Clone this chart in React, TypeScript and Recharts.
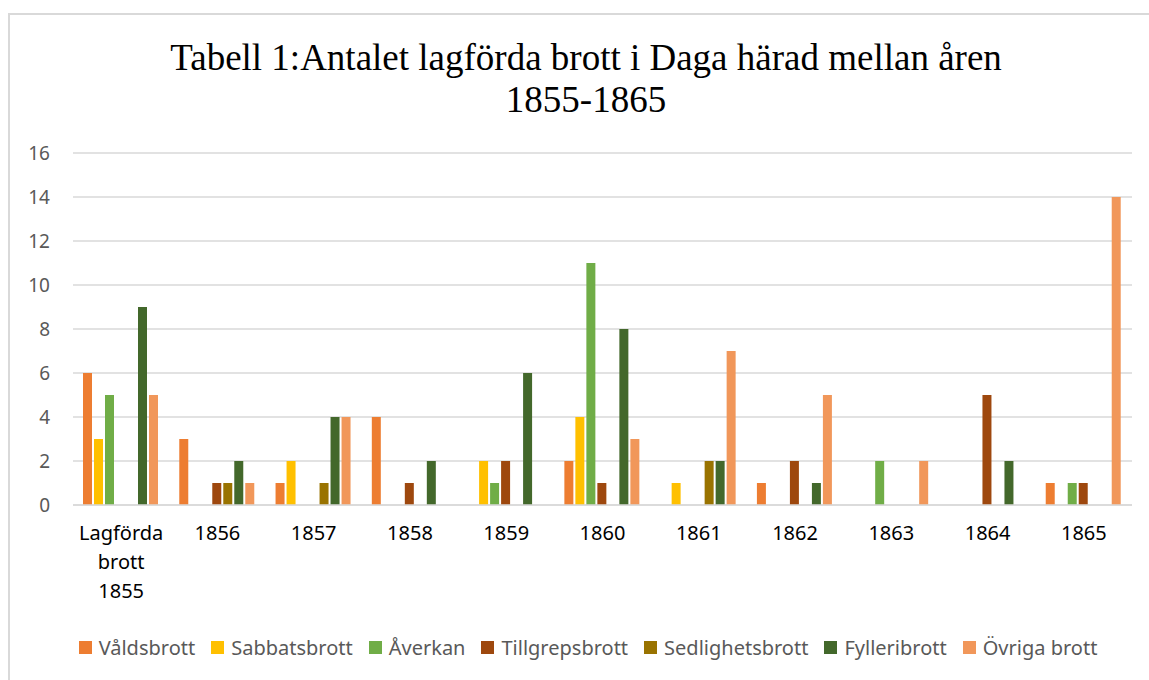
import React from 'react';
import { BarChart, Bar, XAxis, YAxis, CartesianGrid, Legend } from 'recharts';

const categories = ['Lagförda brott 1855', '1856', '1857', '1858', '1859', '1860', '1861', '1862', '1863', '1864', '1865'];
const valdsbrott = [6, 3, 1, 4, 0, 2, 0, 1, 0, 0, 1];
const sabbatsbrott = [3, 0, 2, 0, 2, 4, 1, 0, 0, 0, 0];
const averkan = [5, 0, 0, 0, 1, 11, 0, 0, 2, 0, 1];
const tillgrepsbrott = [0, 1, 0, 1, 2, 1, 0, 2, 0, 5, 1];
const sedlighetsbrott = [0, 1, 1, 0, 0, 0, 2, 0, 0, 0, 0];
const fylleribrott = [9, 2, 4, 2, 6, 8, 2, 1, 0, 2, 0];
const ovrigaBrott = [5, 1, 4, 0, 0, 3, 7, 5, 2, 0, 14];
const yTicks = [0, 2, 4, 6, 8, 10, 12, 14, 16];

const series = [
  { key: 'Våldsbrott', values: valdsbrott, color: '#ED7D31' },
  { key: 'Sabbatsbrott', values: sabbatsbrott, color: '#FFC000' },
  { key: 'Åverkan', values: averkan, color: '#70AD47' },
  { key: 'Tillgrepsbrott', values: tillgrepsbrott, color: '#9E480E' },
  { key: 'Sedlighetsbrott', values: sedlighetsbrott, color: '#997300' },
  { key: 'Fylleribrott', values: fylleribrott, color: '#43682B' },
  { key: 'Övriga brott', values: ovrigaBrott, color: '#F1975A' },
];

const data = categories.map((c, i) => {
  const row: Record<string, string | number> = { name: c };
  series.forEach((s) => { row[s.key] = s.values[i]; });
  return row;
});

const FONT = '"Noto Sans", sans-serif';

const XTick = (props: any) => {
  const { x, y, payload } = props;
  const words = String(payload.value).split(' ');
  return (
    <text x={x} y={y} textAnchor="middle" fill="#000000" fontSize={20} fontFamily={FONT}>
      {words.map((w, i) => (
        <tspan key={i} x={x} dy={i === 0 ? 27 : 29}>{w}</tspan>
      ))}
    </text>
  );
};

const LegendContent = () => (
  <div style={{ display: 'flex', justifyContent: 'center', alignItems: 'center', height: 26, fontFamily: FONT, fontSize: 20, color: '#595959', paddingLeft: 60 }}>
    {series.map((s, i) => (
      <div key={i} style={{ display: 'flex', alignItems: 'center', marginRight: 16 }}>
        <div style={{ width: 13, height: 13, background: s.color, marginRight: 7 }} />
        <span>{s.key}</span>
      </div>
    ))}
  </div>
);

export default function App() {
  return (
    <div style={{ position: 'absolute', left: 0, top: 0, width: 1149, height: 680, background: '#fff', overflow: 'hidden' }}>
      <div style={{ position: 'absolute', left: 8, top: 13, width: 1200, height: 700, borderLeft: '2px solid #D9D9D9', borderTop: '2px solid #D9D9D9' }} />
      <div style={{ position: 'absolute', left: 0, top: 37, width: 1172, textAlign: 'center', fontFamily: '"Liberation Serif", "Times New Roman", serif', fontSize: 37, lineHeight: '42px', color: '#000' }}>
        Tabell 1:Antalet lagförda brott i Daga härad mellan åren<br />1855-1865
      </div>
      <div style={{ position: 'absolute', left: 0, top: 0 }}>
        <BarChart width={1149} height={680} data={data} margin={{ top: 153, right: 17, left: 0, bottom: 20 }} barCategoryGap={10} barGap={2}>
          <CartesianGrid horizontal vertical={false} stroke="#D9D9D9" strokeWidth={1.5} />
          <XAxis dataKey="name" axisLine={{ stroke: '#D9D9D9', strokeWidth: 1.5 }} tickLine={false} tick={<XTick />} height={129} interval={0} />
          <YAxis domain={[0, 16]} ticks={yTicks} axisLine={false} tickLine={false} width={73} tickMargin={17} tick={{ fill: '#595959', fontSize: 19, fontFamily: FONT }} />
          <Legend verticalAlign="bottom" content={<LegendContent />} />
          {series.map((s) => (
            <Bar key={s.key} dataKey={s.key} fill={s.color} isAnimationActive={false} />
          ))}
        </BarChart>
      </div>
    </div>
  );
}
